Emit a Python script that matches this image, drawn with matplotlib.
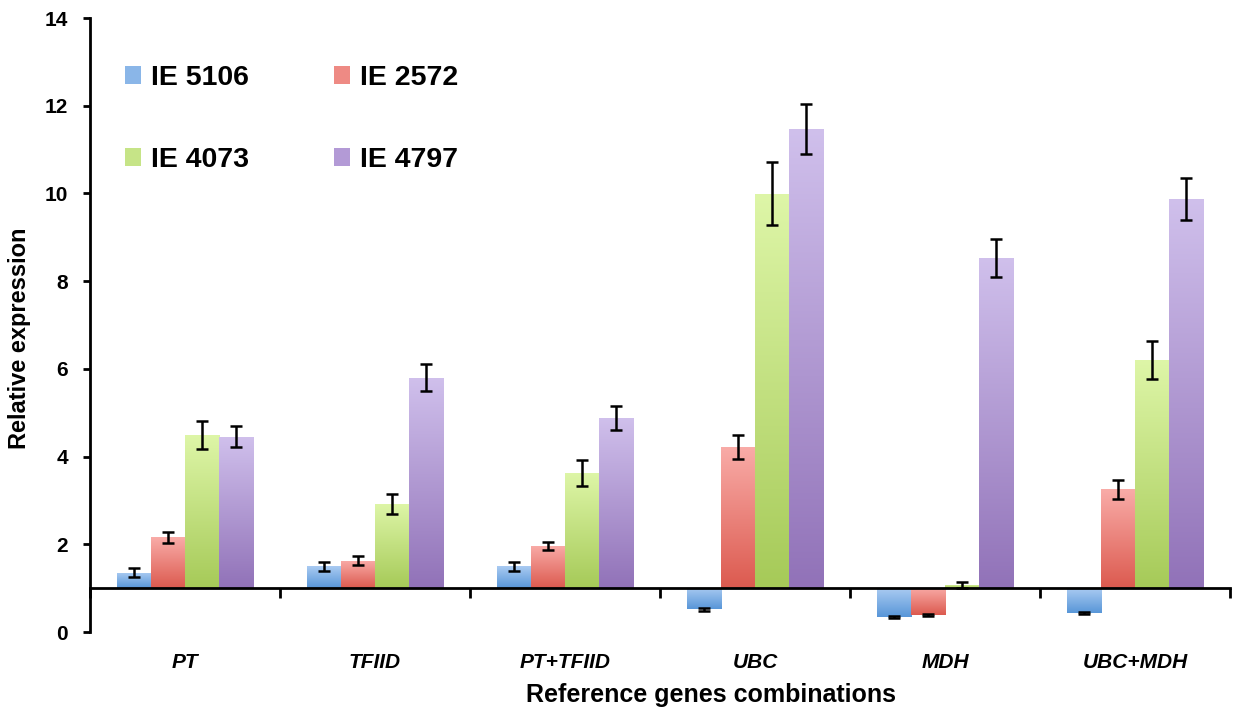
import numpy as np
import matplotlib
matplotlib.use("Agg")
import matplotlib.pyplot as plt
from matplotlib.colors import to_rgb
from matplotlib.patches import Patch

categories = ["PT", "TFIID", "PT+TFIID", "UBC", "MDH", "UBC+MDH"]
series = ["IE 5106", "IE 2572", "IE 4073", "IE 4797"]
ie5106 = [1.35, 1.50, 1.50, 0.52, 0.35, 0.43]
ie2572 = [2.16, 1.63, 1.96, 4.22, 0.38, 3.25]
ie4073 = [4.49, 2.92, 3.63, 9.99, 1.08, 6.20]
ie4797 = [4.45, 5.80, 4.88, 11.47, 8.53, 9.88]
err5106 = [0.10, 0.10, 0.10, 0.03, 0.02, 0.02]
err2572 = [0.13, 0.10, 0.10, 0.27, 0.02, 0.22]
err4073 = [0.32, 0.22, 0.30, 0.72, 0.07, 0.43]
err4797 = [0.24, 0.30, 0.27, 0.56, 0.43, 0.48]
baseline = 1.0

values = [ie5106, ie2572, ie4073, ie4797]
errors = [err5106, err2572, err4073, err4797]
light = ["#aacbf2", "#f9aca8", "#def6a8", "#d0c0ec"]
dark = ["#5896d8", "#dc5a4f", "#a6ca58", "#9172b8"]
mid = ["#8ab6e8", "#ee8a84", "#c6e487", "#b39ad6"]

plt.rcParams['font.family'] = ['Liberation Sans', 'DejaVu Sans']
fig = plt.figure(figsize=(12.36, 7.15), dpi=100)
ax = fig.add_axes([90/1236, 83/715, 1140/1236, 614/715])

x = np.arange(len(categories))
w = 0.18
offsets = (np.arange(len(series)) - 1.5) * w

for i, (vals, errs) in enumerate(zip(values, errors)):
    heights = np.array(vals) - baseline
    bars = ax.bar(x + offsets[i], heights, width=w, bottom=baseline,
                  color=mid[i], edgecolor='none', zorder=2)
    c0 = np.array(to_rgb(light[i]))
    c1 = np.array(to_rgb(dark[i]))
    t = np.linspace(0, 1, 256)[:, None]
    grad = (c0[None, :] * (1 - t) + c1[None, :] * t)[:, None, :]
    for b in bars:
        x0 = b.get_x()
        x1 = x0 + b.get_width()
        y0 = b.get_y()
        y1 = y0 + b.get_height()
        im = ax.imshow(grad, extent=[x0, x1, min(y0, y1), max(y0, y1)],
                       origin='upper', aspect='auto', zorder=2.5,
                       interpolation='bilinear')
        im.set_clip_path(b)
    ax.errorbar(x + offsets[i], vals, yerr=errs, fmt='none', ecolor='black',
                elinewidth=1.8, capsize=4.3, capthick=1.8, zorder=4)

ax.set_xlim(-0.5, len(categories) - 0.5)
ax.set_ylim(0, 14)

for s in ['top', 'right']:
    ax.spines[s].set_visible(False)
ax.spines['left'].set_linewidth(2)
ax.spines['bottom'].set_linewidth(2)
ax.spines['bottom'].set_position(('data', baseline))

ax.set_yticks(np.arange(0, 15, 2))
ax.tick_params(axis='y', direction='out', length=5, width=2, labelsize=15, pad=11)
for lab in ax.get_yticklabels():
    lab.set_fontweight('bold')

ax.set_xticks(np.arange(len(categories) + 1) - 0.5)
ax.set_xticklabels([])
ax.tick_params(axis='x', which='major', direction='out', length=7, width=2)
ax.set_xticks(x, minor=True)
ax.set_xticklabels(categories, minor=True, fontsize=15, fontweight='bold',
                   fontstyle='italic')
ax.tick_params(axis='x', which='minor', length=0, pad=46.5)

ax.set_xlabel("Reference genes combinations", fontsize=18, fontweight='bold')
ax.xaxis.set_label_coords(0.545, -0.083)
ax.set_ylabel("Relative expression", fontsize=17, fontweight='bold')
ax.yaxis.set_label_coords(-0.052, 0.478)

order = [0, 2, 1, 3]
handles = [Patch(facecolor=mid[i], edgecolor='none') for i in order]
labels = [series[i] for i in order]
leg = fig.legend(handles, labels, loc='upper left',
                 bbox_to_anchor=(125/1236, 1 - 65/715), ncol=2, frameon=False,
                 prop={'weight': 'bold', 'size': 20.5}, handlelength=0.55,
                 handleheight=0.55, handletextpad=0.35, columnspacing=3.0,
                 labelspacing=1.97, borderpad=0, borderaxespad=0)

fig.savefig("out.png", dpi=100)
